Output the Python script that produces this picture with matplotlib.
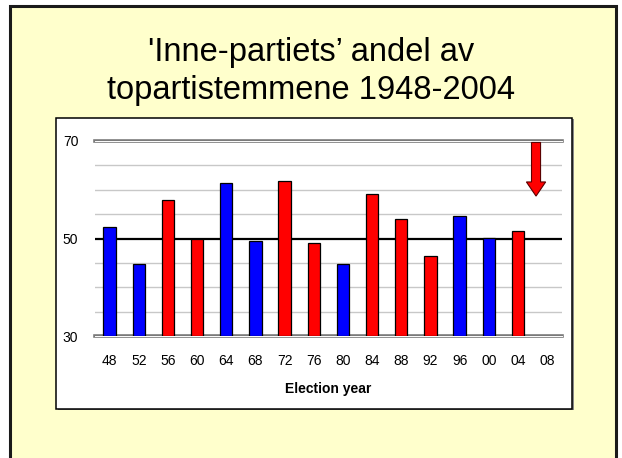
import numpy as np
import matplotlib
matplotlib.use('Agg')
import matplotlib.pyplot as plt
from matplotlib.patches import Rectangle, FancyArrow

plt.rcParams['font.family'] = ['Liberation Sans', 'DejaVu Sans']

# data
years = ['48', '52', '56', '60', '64', '68', '72', '76', '80', '84',
         '88', '92', '96', '00', '04', '08']
share = [52.3, 44.7, 57.8, 50.0, 61.3, 49.5, 61.8, 49.0, 44.7, 59.2,
         53.9, 46.5, 54.6, 50.2, 51.6]
party = ['b', 'b', 'r', 'r', 'b', 'b', 'r', 'r', 'b', 'r',
         'r', 'r', 'b', 'b', 'r']
arrow_top = 69.7
arrow_tip = 58.7

W, H = 622, 458
fig = plt.figure(figsize=(W / 100, H / 100), dpi=100)
fig.patch.set_facecolor('white')


def fx(px):
    return px / W


def fy(py):
    return 1 - py / H


# yellow slide background with dark frame
fig.patches.append(Rectangle((fx(9.5), fy(470)), fx(606), 470 / H - 6.5 / H,
                             transform=fig.transFigure, facecolor='#FFFFCC',
                             edgecolor='#1a1a1a', lw=2.2, zorder=0))
# white chart box, with a little shadow
fig.patches.append(Rectangle((fx(57.5), fy(410)), fx(516), 291 / H,
                             transform=fig.transFigure, facecolor='#888888',
                             edgecolor='none', zorder=1))
fig.patches.append(Rectangle((fx(56), fy(408.5)), fx(515.5), 291 / H,
                             transform=fig.transFigure, facecolor='white',
                             edgecolor='black', lw=1.1, zorder=2))

fig.text(0.5, fy(53), "'Inne-partiets\u2019 andel av", ha='center', va='center',
         fontsize=23.5, color='black')
fig.text(0.5, fy(90), "topartistemmene 1948-2004", ha='center', va='center',
         fontsize=23.5, color='black')

ax = fig.add_axes([fx(95), fy(336), fx(466.7), 195 / H])
ax.set_facecolor('none')
ax.set_zorder(3)

x = np.arange(len(years))
colors = ['#0000FF' if p == 'b' else '#FF0000' for p in party]

# grid
for g in [35, 40, 45, 55, 60, 65]:
    ax.axhline(g, color='#C8C8C8', lw=1, zorder=1)
for g in [30, 70]:
    ax.axhline(g, color='#7a7a7a', lw=2.6, zorder=1, clip_on=False)
    ax.axhline(g, color='white', lw=0.7, zorder=1.1, clip_on=False)
ax.axhline(50, color='black', lw=1.6, zorder=2)

ax.bar(x[:len(share)], np.array(share) - 30, bottom=30, width=0.42,
       color=colors, edgecolor='black', lw=0.9, zorder=3)

# arrow for 2008
ax.add_patch(FancyArrow(14.62, arrow_top, 0, arrow_tip - arrow_top,
                        width=0.31, head_width=0.66, head_length=2.9,
                        length_includes_head=True, facecolor='#FF0000',
                        edgecolor='#5a0000', lw=0.8, zorder=4))

ax.set_xlim(-0.5, len(years) - 0.5)
ax.set_ylim(30, 70)
ax.set_yticks([30, 50, 70])
ax.set_xticks(x)
ax.set_xticklabels(years)
ax.tick_params(axis='both', length=0, labelsize=10, colors='black')
ax.tick_params(axis='x', pad=13)
ax.tick_params(axis='y', pad=12)
for s in ax.spines.values():
    s.set_visible(False)
ax.set_xlabel('Election year', fontsize=10, fontweight='bold', labelpad=10)

fig.savefig('out.png', dpi=100)
